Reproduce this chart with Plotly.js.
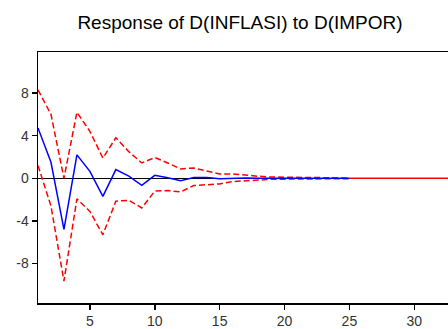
<!DOCTYPE html>
<html><head><meta charset="utf-8">
<script src="https://cdn.plot.ly/plotly-3.0.1.min.js"></script>
<style>html,body{margin:0;padding:0;background:#fff;overflow:hidden}#c{width:448px;height:329px}</style>
</head><body><div id="c"></div>
<script>
const periods = [1,2,3,4,5,6,7,8,9,10,11,12,13,14,15,16,17,18,19,20,21,22,23,24,25];
const response = [4.72,1.5,-4.8,2.2,0.65,-1.7,0.82,0.2,-0.66,0.28,0.05,-0.22,0.07,0.07,-0.04,0.0,0.02,0.0,0.01,0.0,0.0,0.0,0.0,0.0,0.0];
const upper = [8.3,6.0,0.0,6.2,4.4,1.9,3.8,2.5,1.44,1.95,1.44,0.88,0.97,0.66,0.41,0.41,0.28,0.19,0.12,0.1,0.08,0.06,0.05,0.04,0.03];
const lower = [1.2,-2.6,-9.65,-1.93,-3.1,-5.3,-2.15,-2.06,-2.78,-1.2,-1.15,-1.28,-0.68,-0.6,-0.53,-0.3,-0.22,-0.15,-0.1,-0.08,-0.07,-0.05,-0.04,-0.03,-0.03];
const xTicks = [5,10,15,20,25,30];
const yTicks = [-8,-4,0,4,8];
const titleText = "Response of D(INFLASI) to D(IMPOR)";

const traces = [
  {x: periods, y: upper, mode:'lines', line:{color:'#ff0000', width:1.5, dash:'6px,3px'}, hoverinfo:'skip'},
  {x: periods, y: lower, mode:'lines', line:{color:'#ff0000', width:1.5, dash:'6px,3px'}, hoverinfo:'skip'},
  {x: periods, y: response, mode:'lines', line:{color:'#0000ff', width:1.5}, hoverinfo:'skip'}
];
const layout = {
  width:448, height:329,
  margin:{l:38, r:0, t:52, b:26},
  paper_bgcolor:'#fff', plot_bgcolor:'#fff',
  showlegend:false,
  font:{family:'Liberation Sans, Arial, sans-serif', color:'#333'},
  title:{text:titleText, x:240/448, xref:'container', xanchor:'center', y:1-22/329, yref:'container', yanchor:'middle', font:{size:19, color:'#000', family:'Liberation Sans, Arial, sans-serif'}},
  xaxis:{range:[1,32.6], tickvals:xTicks, ticktext:xTicks.map(String), ticks:'outside', ticklen:5, tickwidth:1.5, tickcolor:'#000',
    showline:true, linecolor:'#000', linewidth:1.5, mirror:true, showgrid:false, zeroline:false,
    tickfont:{size:14, color:'#333'}},
  yaxis:{range:[-11.7,11.85], tickvals:yTicks, ticktext:yTicks.map(String), ticks:'outside', ticklen:5, tickwidth:1.5, tickcolor:'#000',
    showline:true, linecolor:'#000', linewidth:1.5, mirror:false, showgrid:false,
    zeroline:true, zerolinecolor:'#000', zerolinewidth:1,
    tickfont:{size:14, color:'#333'}},
  shapes:[{type:'line', xref:'x', yref:'y', x0:periods[periods.length-1], x1:32.6, y0:0, y1:0, line:{color:'#ff0000', width:1.5}, layer:'above'}]
};
Plotly.newPlot('c', traces, layout, {staticPlot:true, displayModeBar:false});
</script></body></html>
